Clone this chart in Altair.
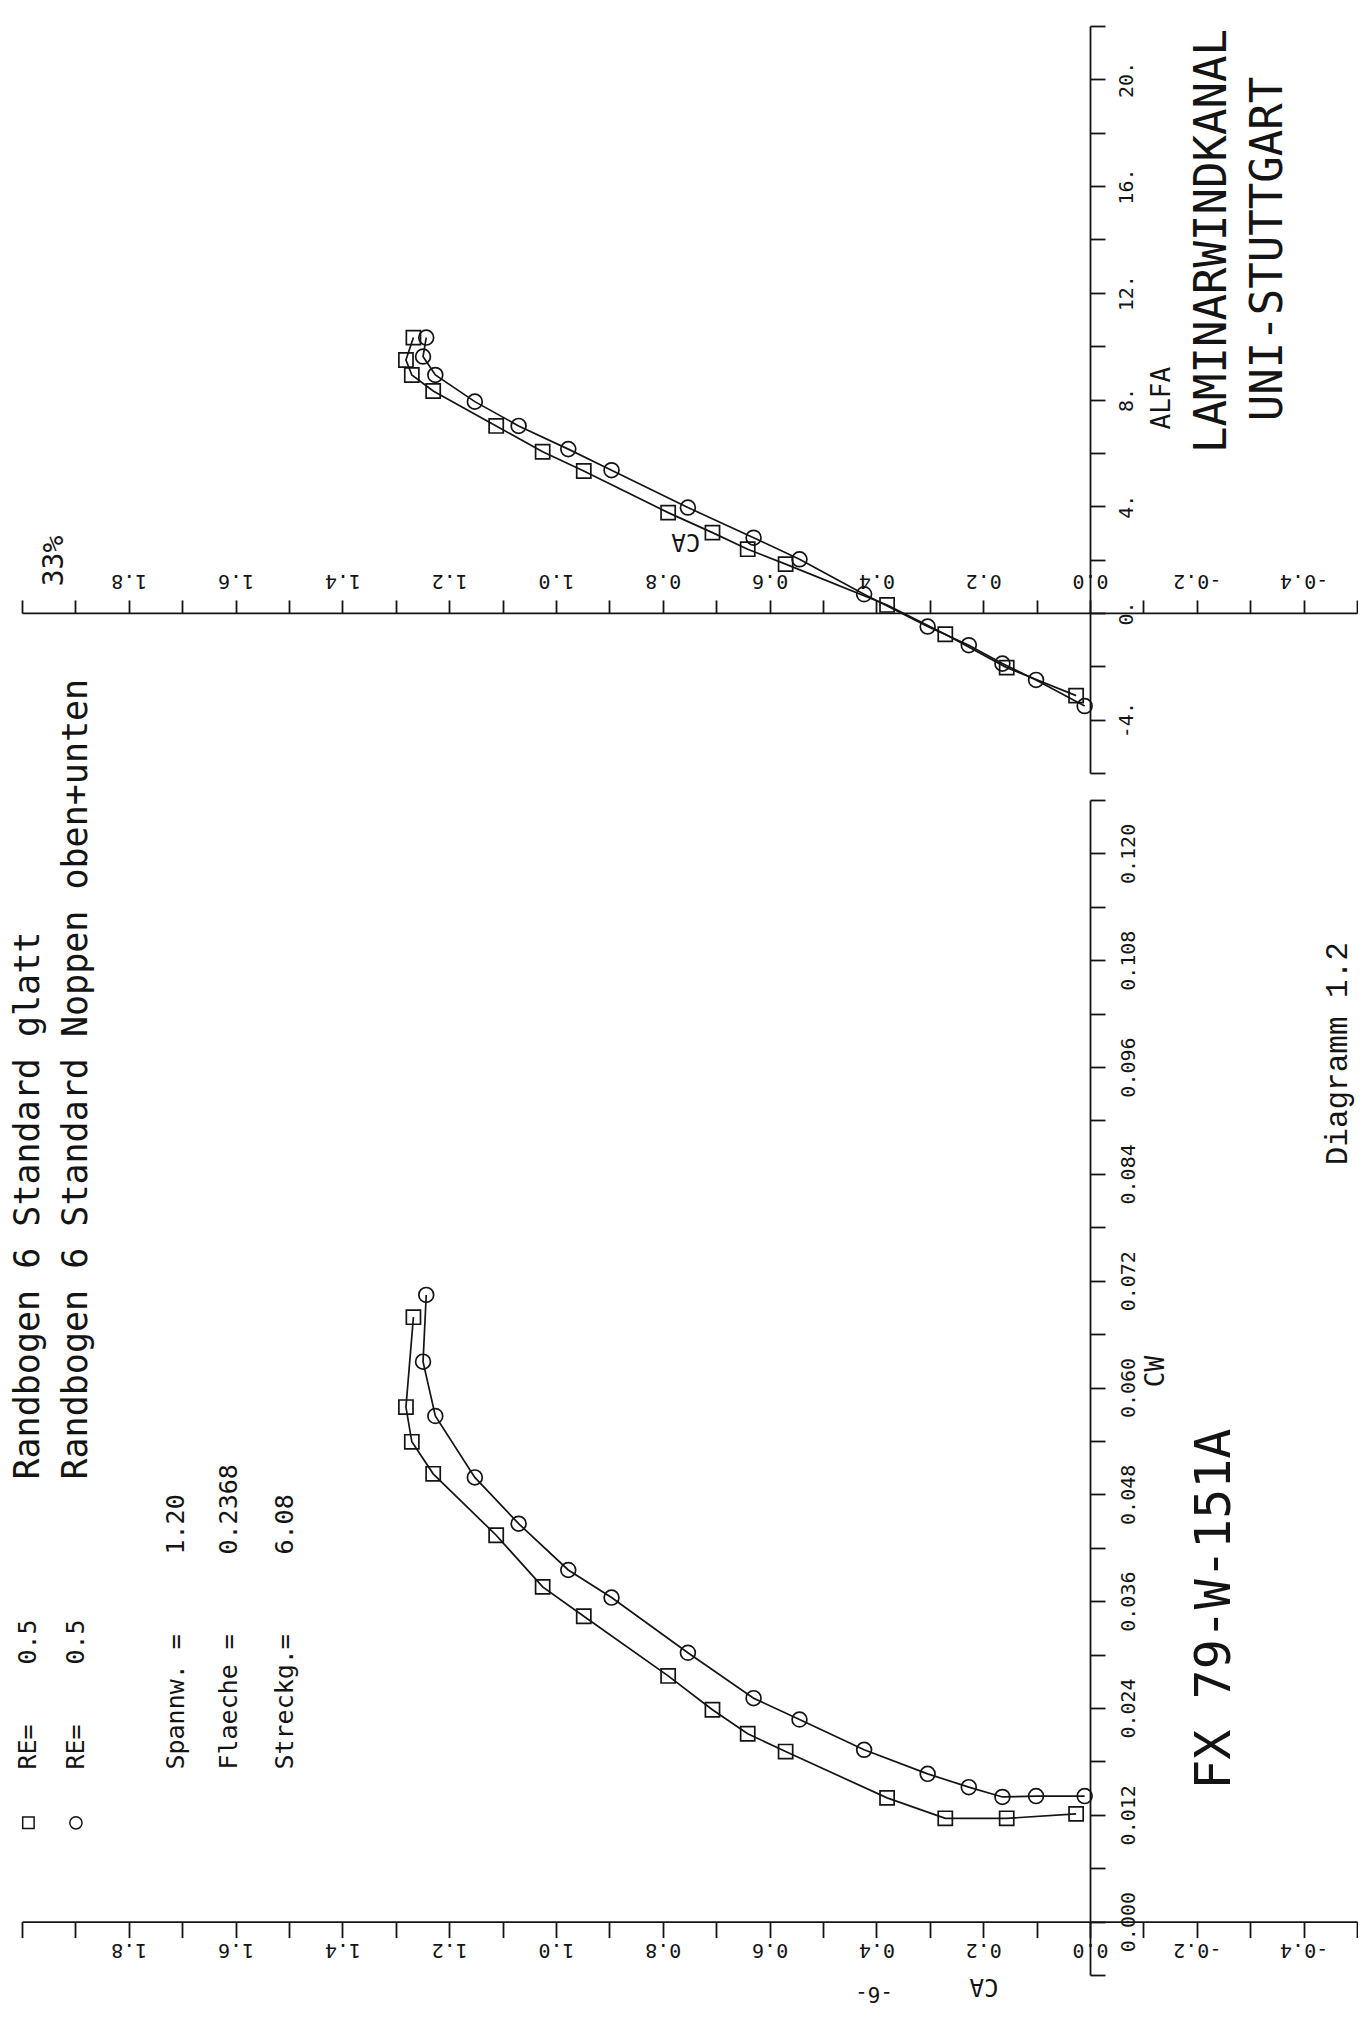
import altair as alt
import pandas as pd

# ---------------- data ----------------
# Randbogen 6 Standard glatt  (squares)
alfa_glatt = [-3.1, -2.05, -0.8, 0.3, 1.83, 2.39, 3.01, 3.76, 5.32, 6.04, 7.01, 8.32, 8.92, 9.48, 10.32]
ca_glatt = [0.026, 0.156, 0.271, 0.380, 0.570, 0.641, 0.707, 0.790, 0.948, 1.025, 1.112, 1.230, 1.270, 1.281, 1.267]
cw_glatt = [0.0121, 0.0116, 0.0116, 0.0139, 0.0191, 0.0211, 0.0238, 0.0276, 0.0343, 0.0376, 0.0434, 0.0503, 0.0539, 0.0578, 0.0679]

# Randbogen 6 Standard Noppen oben+unten  (circles)
alfa_noppen = [-3.49, -2.51, -1.90, -1.21, -0.51, 0.70, 2.01, 2.82, 3.95, 5.35, 6.14, 7.01, 7.92, 8.92, 9.61, 10.32]
ca_noppen = [0.010, 0.101, 0.164, 0.227, 0.304, 0.423, 0.544, 0.630, 0.753, 0.896, 0.977, 1.070, 1.152, 1.226, 1.249, 1.243]
cw_noppen = [0.0141, 0.0141, 0.0140, 0.0151, 0.0166, 0.0193, 0.0227, 0.0251, 0.0302, 0.0364, 0.0395, 0.0447, 0.0499, 0.0568, 0.0629, 0.0704]

# axis tick values
ca_ticks = [-0.5, -0.4, -0.3, -0.2, -0.1, 0.0, 0.1, 0.2, 0.3, 0.4, 0.5, 0.6, 0.7, 0.8, 0.9,
            1.0, 1.1, 1.2, 1.3, 1.4, 1.5, 1.6, 1.7, 1.8, 1.9, 2.0]
alfa_ticks = [-6, -4, -2, 0, 2, 4, 6, 8, 10, 12, 14, 16, 18, 20, 22]
cw_ticks = [-0.006, 0.0, 0.006, 0.012, 0.018, 0.024, 0.030, 0.036, 0.042, 0.048, 0.054, 0.060,
            0.066, 0.072, 0.078, 0.084, 0.090, 0.096, 0.102, 0.108, 0.114, 0.120, 0.126]

MONO = "DejaVu Sans Mono"
INK = "#141414"

W = 1335
H_TOP = 747
H_BOT = 1175

# ---------------- tables ----------------
df_alpha = pd.concat([
    pd.DataFrame({"ALFA": alfa_glatt, "CA": ca_glatt, "s": "glatt"}),
    pd.DataFrame({"ALFA": alfa_noppen, "CA": ca_noppen, "s": "noppen"}),
])
df_polar = pd.concat([
    pd.DataFrame({"ALFA": alfa_glatt, "CA": ca_glatt, "CW": cw_glatt, "s": "glatt"}),
    pd.DataFrame({"ALFA": alfa_noppen, "CA": ca_noppen, "CW": cw_noppen, "s": "noppen"}),
])

minus_fix = "'\u2212', '-'"
ca_label = ("(abs(round(datum.value*10)) % 2 == 0 && datum.value > -0.45 && datum.value < 1.95) ? "
            "replace(format(datum.value, '.1f'), " + minus_fix + ") : ''")
alfa_label = ("(datum.value % 4 == 0 && datum.value > -6 && datum.value < 22) ? "
              "replace(format(datum.value, 'd'), " + minus_fix + ") + '.' : ''")
cw_label = ("(abs(round(datum.value*1000/6)) % 2 == 0 && datum.value > -0.001 && datum.value < 0.121) ? "
            "format(datum.value, '.3f') : ''")

ca_scale = alt.Scale(domain=[-0.5, 2.0], reverse=True, nice=False, zero=False)
alfa_scale = alt.Scale(domain=[-6, 22], nice=False, zero=False)
cw_scale = alt.Scale(domain=[-0.006, 0.126], nice=False, zero=False)

common_axis = dict(grid=False, title=None, labelOverlap=False, labelFlush=False,
                   domainColor=INK, tickColor=INK, labelColor=INK, domainWidth=1.8,
                   tickWidth=1.8, labelFont=MONO)

X_top = alt.X("CA:Q", scale=ca_scale, axis=alt.Axis(
    orient="top", offset=-22 * H_TOP / 28, values=ca_ticks, tickSize=13,
    labelAngle=180, labelAlign="center", labelBaseline="middle", labelPadding=19,
    labelFontSize=20, labelExpr=ca_label, **common_axis))
Y_top = alt.Y("ALFA:Q", scale=alfa_scale, axis=alt.Axis(
    orient="right", offset=-0.5 * W / 2.5, values=alfa_ticks, tickSize=15,
    labelAngle=270, labelAlign="center", labelBaseline="middle", labelPadding=21,
    labelFontSize=20, labelExpr=alfa_label, **common_axis))

X_bot = alt.X("CA:Q", scale=ca_scale, axis=alt.Axis(
    orient="bottom", offset=-0.006 * H_BOT / 0.132, values=ca_ticks, tickSize=16,
    labelAngle=180, labelAlign="center", labelBaseline="middle", labelPadding=12,
    labelFontSize=20, labelExpr=ca_label, **common_axis))
Y_bot = alt.Y("CW:Q", scale=cw_scale, axis=alt.Axis(
    orient="right", offset=-0.5 * W / 2.5, values=cw_ticks, tickSize=15,
    labelAngle=270, labelAlign="center", labelBaseline="middle", labelPadding=23,
    labelFontSize=20, labelExpr=cw_label, **common_axis))


def series_layers(df, X, Y):
    line = alt.Chart(df).mark_line(color=INK, strokeWidth=1.7).encode(
        x=X, y=Y, detail="s:N", order="ALFA:Q")
    sq = alt.Chart(df[df["s"] == "glatt"]).mark_point(
        shape="square", filled=False, size=200, color=INK, strokeWidth=1.7, opacity=1
    ).encode(x=X, y=Y)
    ci = alt.Chart(df[df["s"] == "noppen"]).mark_point(
        shape="circle", filled=False, size=220, color=INK, strokeWidth=1.7, opacity=1
    ).encode(x=X, y=Y)
    return [line, sq, ci]


def text(t, ca, v, vfield, X, Y, size, angle=270, align="center", font=MONO):
    df = pd.DataFrame({"CA": [ca], vfield: [v], "t": [t]})
    return alt.Chart(df).mark_text(
        angle=angle, align=align, baseline="middle", fontSize=size, font=font, color=INK
    ).encode(x=X, y=Y, text="t:N")


# ---------------- top panel: CA over ALFA ----------------
top_layers = series_layers(df_alpha, X_top, Y_top) + [
    text("33%", 1.938, 1.0, "ALFA", X_top, Y_top, 28, align="left"),
    text("CA", 0.757, 2.69, "ALFA", X_top, Y_top, 24, angle=180),
    text("ALFA", -0.135, 8.05, "ALFA", X_top, Y_top, 26),
    text("LAMINARWINDKANAL", -0.230, 13.94, "ALFA", X_top, Y_top, 44),
    text("UNI-STUTTGART", -0.335, 13.64, "ALFA", X_top, Y_top, 44),
]
top = alt.layer(*top_layers).properties(width=W, height=H_TOP)

# ---------------- bottom panel: CA over CW ----------------
L1 = 1.988
L2 = 1.899
legend_sym = pd.DataFrame({"CA": [L1, L2], "CW": [0.0111, 0.0111], "s": ["glatt", "noppen"]})
sym_sq = alt.Chart(legend_sym[legend_sym["s"] == "glatt"]).mark_point(
    shape="square", filled=False, size=130, color=INK, strokeWidth=1.5, opacity=1).encode(x=X_bot, y=Y_bot)
sym_ci = alt.Chart(legend_sym[legend_sym["s"] == "noppen"]).mark_point(
    shape="circle", filled=False, size=150, color=INK, strokeWidth=1.5, opacity=1).encode(x=X_bot, y=Y_bot)

bot_layers = series_layers(df_polar, X_bot, Y_bot) + [
    sym_sq, sym_ci,
    text("RE=", L1, 0.01708, "CW", X_bot, Y_bot, 25, align="left"),
    text("0.5", L1, 0.02888, "CW", X_bot, Y_bot, 25, align="left"),
    text("Randbogen 6 Standard glatt", L1, 0.04966, "CW", X_bot, Y_bot, 35, align="left"),
    text("RE=", L2, 0.01708, "CW", X_bot, Y_bot, 25, align="left"),
    text("0.5", L2, 0.02888, "CW", X_bot, Y_bot, 25, align="left"),
    text("Randbogen 6 Standard Noppen oben+unten", L2, 0.04966, "CW", X_bot, Y_bot, 35, align="left"),
    text("Spannw. =", 1.712, 0.01708, "CW", X_bot, Y_bot, 25, align="left"),
    text("1.20", 1.712, 0.04124, "CW", X_bot, Y_bot, 25, align="left"),
    text("Flaeche =", 1.612, 0.01708, "CW", X_bot, Y_bot, 25, align="left"),
    text("0.2368", 1.612, 0.04124, "CW", X_bot, Y_bot, 25, align="left"),
    text("Streckg.=", 1.508, 0.01708, "CW", X_bot, Y_bot, 25, align="left"),
    text("6.08", 1.508, 0.04124, "CW", X_bot, Y_bot, 25, align="left"),
    text("CW", -0.124, 0.0618, "CW", X_bot, Y_bot, 26),
    text("FX 79-W-151A", -0.234, 0.0351, "CW", X_bot, Y_bot, 50),
    text("Diagramm 1.2", -0.464, 0.0975, "CW", X_bot, Y_bot, 31, font="Liberation Mono"),
    text("CA", 0.1985, -0.0072, "CW", X_bot, Y_bot, 24, angle=180),
    text("-6-", 0.4045, -0.0080, "CW", X_bot, Y_bot, 21, angle=180),
]
bottom = alt.layer(*bot_layers).properties(width=W, height=H_BOT)

chart = (
    alt.vconcat(top, bottom, spacing=27, bounds="flush")
    .properties(padding={"left": 3, "top": 17, "right": 0, "bottom": 6}, background="white")
    .configure(font=MONO)
    .configure_view(stroke="transparent", strokeWidth=0)
)

chart.save("out.html", embed_options={"renderer": "svg", "actions": False})
